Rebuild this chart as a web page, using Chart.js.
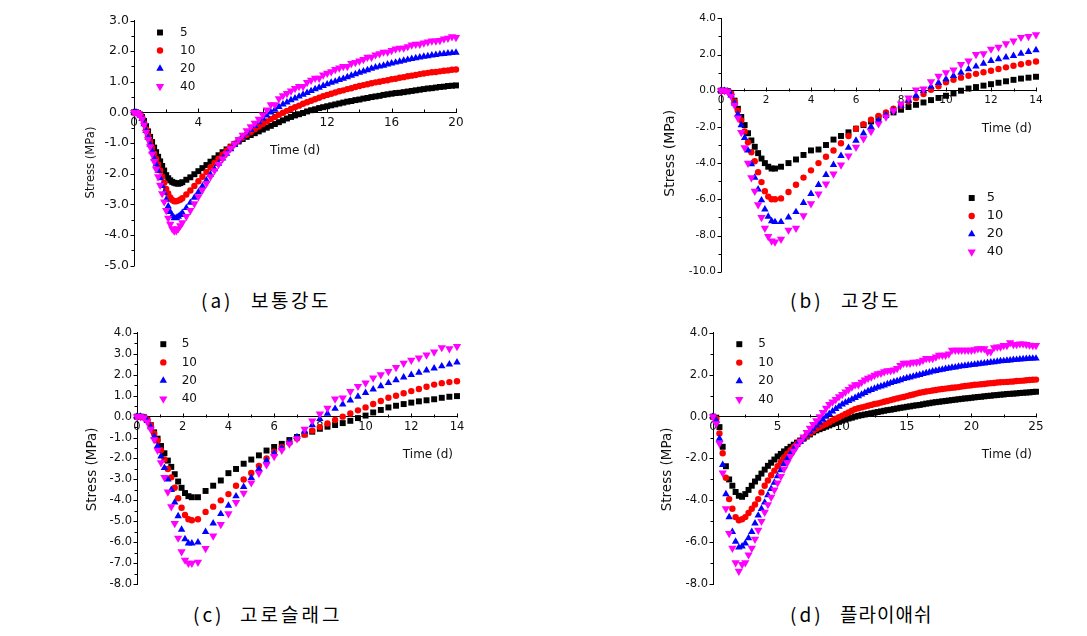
<!DOCTYPE html>
<html><head><meta charset="utf-8">
<script src="https://cdn.jsdelivr.net/npm/chart.js"></script>
<style>
html,body{margin:0;padding:0;background:#fff;}
body{width:1087px;height:636px;position:relative;overflow:hidden;}
canvas{position:absolute;}
.cap{position:absolute;font-family:"Noto Sans CJK KR";font-size:19px;color:#000;white-space:nowrap;line-height:20px;}
</style></head><body>
<canvas id="ca" width="394" height="270" style="left:74px;top:8px"></canvas>
<canvas id="cb" width="387" height="276" style="left:661px;top:7px"></canvas>
<canvas id="cc" width="392" height="275" style="left:77px;top:321px"></canvas>
<canvas id="cd" width="395" height="275" style="left:653px;top:321px"></canvas>

<span class="cap" style="left:201px;top:290px;letter-spacing:3px">(a)</span>
<span class="cap" style="left:251px;top:290px;letter-spacing:2.5px">보통강도</span>
<span class="cap" style="left:790px;top:290px;letter-spacing:3px">(b)</span>
<span class="cap" style="left:841px;top:290px;letter-spacing:2.5px">고강도</span>
<span class="cap" style="left:193px;top:604px;letter-spacing:3px">(c)</span>
<span class="cap" style="left:240px;top:604px;letter-spacing:3px">고로슬래그</span>
<span class="cap" style="left:790px;top:604px;letter-spacing:3px">(d)</span>
<span class="cap" style="left:840px;top:604px;letter-spacing:1px">플라이애쉬</span>

<script>
// ---------- data ----------
const seriesNames = ['5', '10', '20', '40'];

function range(a, b, s) {
  const n = Math.round((b - a) / s);
  return Array.from({length: n + 1}, (_, i) => +(a + i * s).toFixed(4));
}

// (a) 보통강도 : 0..3 d every 0.125 d, then every 0.25 d up to 20 d
const timeA = [...range(0, 3, 0.125), ...range(3.25, 20, 0.25)];
const a5 = [0, 0, -0.02, -0.07, -0.15, -0.28, -0.45, -0.62,
  -0.8, -0.97, -1.15, -1.3, -1.45, -1.6, -1.75, -1.9,
  -2.05, -2.15, -2.22, -2.27, -2.3, -2.32, -2.33, -2.31,
  -2.28, -2.2, -2.12, -2.02,
  -1.92, -1.82, -1.72, -1.61, -1.5, -1.4, -1.3, -1.21,
  -1.12, -1.03, -0.95, -0.87, -0.8, -0.74, -0.68, -0.62,
  -0.56, -0.5, -0.44, -0.38, -0.32, -0.26, -0.2, -0.15,
  -0.1, -0.06, -0.02, 0.03, 0.07, 0.1, 0.14, 0.17,
  0.2, 0.23, 0.26, 0.29, 0.32, 0.35, 0.37, 0.4,
  0.42, 0.45, 0.47, 0.5, 0.52, 0.54, 0.57, 0.59,
  0.61, 0.63, 0.64, 0.66, 0.68, 0.7, 0.72, 0.74,
  0.76, 0.78, 0.79, 0.81, 0.83, 0.84, 0.86, 0.87,
  0.88];
const a10 = [0, 0, -0.02, -0.08, -0.18, -0.35, -0.55, -0.75,
  -0.95, -1.15, -1.35, -1.52, -1.7, -1.9, -2.1, -2.3,
  -2.5, -2.65, -2.78, -2.86, -2.9, -2.9, -2.88, -2.85,
  -2.8, -2.68, -2.55, -2.4,
  -2.25, -2.1, -1.95, -1.8, -1.65, -1.51, -1.38, -1.25,
  -1.13, -1.02, -0.92, -0.82, -0.73, -0.64, -0.55, -0.46,
  -0.38, -0.3, -0.22, -0.15, -0.08, -0.01, 0.05, 0.11,
  0.17, 0.22, 0.28, 0.33, 0.38, 0.43, 0.48, 0.53,
  0.57, 0.61, 0.65, 0.69, 0.72, 0.76, 0.79, 0.83,
  0.86, 0.89, 0.92, 0.95, 0.98, 1.0, 1.03, 1.05,
  1.08, 1.1, 1.13, 1.15, 1.18, 1.2, 1.22, 1.25,
  1.27, 1.29, 1.31, 1.32, 1.34, 1.36, 1.37, 1.39,
  1.4];
const a20 = [0, 0, -0.03, -0.09, -0.2, -0.38, -0.6, -0.82,
  -1.05, -1.27, -1.5, -1.7, -1.9, -2.15, -2.4, -2.62,
  -2.85, -3.07, -3.25, -3.38, -3.45, -3.44, -3.4, -3.35,
  -3.28, -3.12, -2.95, -2.78,
  -2.6, -2.41, -2.22, -2.03, -1.85, -1.67, -1.5, -1.35,
  -1.2, -1.06, -0.92, -0.8, -0.68, -0.56, -0.44, -0.32,
  -0.2, -0.1, 0.0, 0.09, 0.18, 0.26, 0.33, 0.4,
  0.46, 0.52, 0.58, 0.64, 0.7, 0.76, 0.81, 0.87,
  0.92, 0.97, 1.01, 1.06, 1.1, 1.15, 1.2, 1.25,
  1.3, 1.34, 1.38, 1.43, 1.47, 1.5, 1.53, 1.57,
  1.6, 1.63, 1.66, 1.69, 1.72, 1.75, 1.77, 1.8,
  1.82, 1.84, 1.86, 1.88, 1.9, 1.91, 1.93, 1.94,
  1.95];
const a40 = [0, 0, -0.03, -0.1, -0.22, -0.42, -0.65, -0.88,
  -1.12, -1.36, -1.6, -1.85, -2.1, -2.38, -2.65, -2.92,
  -3.2, -3.45, -3.65, -3.8, -3.87, -3.86, -3.8, -3.7,
  -3.6, -3.4, -3.2, -2.98,
  -2.75, -2.53, -2.32, -2.1, -1.9, -1.7, -1.52, -1.35,
  -1.18, -1.03, -0.88, -0.74, -0.6, -0.47, -0.35, -0.22,
  -0.08, 0.08, 0.25, 0.25, 0.45, 0.55, 0.62, 0.7,
  0.78, 0.85, 0.85, 0.98, 1.05, 1.12, 1.12, 1.22,
  1.28, 1.33, 1.4, 1.45, 1.5, 1.5, 1.6, 1.63,
  1.68, 1.73, 1.8, 1.8, 1.88, 1.92, 1.97, 1.97,
  2.02, 2.07, 2.1, 2.1, 2.15, 2.2, 2.23, 2.23,
  2.27, 2.3, 2.33, 2.33, 2.35, 2.4, 2.42, 2.47,
  2.45];

// (b) 고강도 and (c) 고로슬래그 : 0..2.4 d every 0.15 d, then every 1/3 d up to 14 d
const timeBC = [...range(0, 2.4, 0.15), ...range(8 / 3, 14, 1 / 3)];
const b5 = [0, 0, -0.02, -0.2, -0.55, -1.0, -1.45, -1.9,
  -2.35, -2.75, -3.1, -3.45, -3.75, -4.0, -4.2, -4.3, -4.3,
  -4.2,
  -4.0, -3.8, -3.55,
  -3.3, -3.25, -3.0,
  -2.7, -2.5, -2.3,
  -2.1, -1.9, -1.7,
  -1.5, -1.35, -1.2,
  -1.05, -0.9, -0.78,
  -0.65, -0.52, -0.4,
  -0.28, -0.15, 0.0,
  0.12, 0.2, 0.28,
  0.36, 0.44, 0.52,
  0.6, 0.67, 0.72,
  0.77];
const b10 = [0, 0, -0.03, -0.2, -0.6, -1.1, -1.65, -2.25,
  -2.85, -3.4, -3.9, -4.5, -5.05, -5.55, -5.85, -6.0, -6.0,
  -5.95,
  -5.6, -5.2, -4.8,
  -4.4, -4.0, -3.65,
  -3.3, -2.9, -2.5,
  -2.1, -1.85, -1.6,
  -1.4, -1.2, -1.0,
  -0.83, -0.6, -0.4,
  -0.18, 0.05, 0.25,
  0.46, 0.6, 0.72,
  0.83, 0.93, 1.02,
  1.1, 1.2, 1.29,
  1.38, 1.46, 1.54,
  1.61];
const b20 = [0, 0, -0.03, -0.25, -0.7, -1.3, -1.9, -2.6,
  -3.3, -4.05, -4.8, -5.45, -6.05, -6.55, -6.95, -7.2, -7.25,
  -7.25,
  -7.0, -6.7, -6.2,
  -5.7, -5.2, -4.65,
  -4.1, -3.6, -3.15,
  -2.75, -2.35, -2.0,
  -1.65, -1.35, -1.1,
  -0.83, -0.55, -0.27,
  0.0, 0.22, 0.43,
  0.64, 0.82, 1.0,
  1.19, 1.34, 1.5,
  1.65, 1.75, 1.84,
  1.93, 2.05, 2.15,
  2.24];
const b40 = [0, 0, -0.05, -0.3, -0.8, -1.5, -2.3, -3.15,
  -4.0, -4.8, -5.55, -6.3, -7.0, -7.6, -8.05, -8.3, -8.35,
  -8.2,
  -7.7, -7.6, -6.9,
  -6.24, -5.7, -5.15,
  -4.6, -4.1, -3.6,
  -3.12, -2.65, -2.25,
  -1.83, -1.45, -1.1,
  -0.73, -0.4, 0.05,
  0.1, 0.5, 0.8,
  1.0, 1.15, 1.45,
  1.65, 2.0, 2.05,
  2.3, 2.4, 2.6,
  2.75, 2.95, 3.0,
  3.1];

const c5 = [0, 0, -0.03, -0.15, -0.4, -0.75, -1.05, -1.4,
  -1.75, -2.1, -2.4, -2.75, -3.1, -3.4, -3.65, -3.8, -3.85,
  -3.85,
  -3.55, -3.3, -3.05,
  -2.7, -2.5, -2.25,
  -2.05, -1.85, -1.62,
  -1.45, -1.3, -1.12,
  -0.97, -0.85, -0.72,
  -0.58, -0.48, -0.4,
  -0.31, -0.2, -0.07,
  0.05, 0.2, 0.32,
  0.44, 0.52, 0.6,
  0.67, 0.73, 0.78,
  0.83, 0.9, 0.95,
  0.98];
const c10 = [0, 0, -0.03, -0.15, -0.4, -0.8, -1.15, -1.6,
  -2.05, -2.5, -2.9, -3.4, -3.9, -4.35, -4.7, -4.9, -4.95,
  -4.9,
  -4.55, -4.3, -4.0,
  -3.7, -3.3, -3.0,
  -2.69, -2.35, -2.0,
  -1.67, -1.45, -1.25,
  -1.05, -0.85, -0.67,
  -0.5, -0.33, -0.16,
  0.0, 0.15, 0.3,
  0.44, 0.6, 0.75,
  0.9, 1.0, 1.12,
  1.22, 1.32, 1.43,
  1.53, 1.6, 1.65,
  1.69];
const c20 = [0, 0, -0.04, -0.2, -0.5, -0.95, -1.4, -1.9,
  -2.45, -3.0, -3.5, -4.1, -4.75, -5.4, -5.85, -6.05, -6.05,
  -6.0,
  -5.5, -5.1, -4.65,
  -4.25, -3.8, -3.35,
  -2.92, -2.5, -2.1,
  -1.75, -1.5, -1.22,
  -0.97, -0.7, -0.4,
  -0.11, 0.15, 0.38,
  0.59, 0.78, 0.96,
  1.14, 1.3, 1.46,
  1.61, 1.75, 1.88,
  2.0, 2.1, 2.21,
  2.31, 2.41, 2.5,
  2.59];
const c40 = [0, 0, -0.05, -0.25, -0.6, -1.1, -1.6, -2.2,
  -2.9, -3.6, -4.3, -5.1, -5.8, -6.45, -6.85, -7.0, -7.0,
  -6.95,
  -6.3, -5.7, -5.15,
  -4.64, -4.1, -3.65,
  -3.16, -2.7, -2.3,
  -1.9, -1.6, -1.3,
  -1.05, -0.6, -0.2,
  0.13, 0.4, 0.85,
  0.9, 1.2, 1.45,
  1.61, 1.85, 2.0,
  2.16, 2.35, 2.55,
  2.7, 2.8, 2.95,
  3.09, 3.3, 3.25,
  3.35];

// (d) 플라이애쉬 : every 0.25 d, 0..25 d
const timeD = range(0, 25, 0.25);
const d5 = [0, -0.05, -0.5, -1.44,
  -2.37, -3.0, -3.3, -3.6,
  -3.78, -3.83, -3.7, -3.5,
  -3.3, -3.1, -2.92, -2.72,
  -2.53, -2.35, -2.2, -2.05,
  -1.9, -1.78, -1.66, -1.55,
  -1.44, -1.34, -1.24, -1.14,
  -1.05, -0.95, -0.85, -0.75,
  -0.66, -0.6, -0.54, -0.48,
  -0.42, -0.36, -0.3, -0.25,
  -0.19, -0.14, -0.09, -0.05,
  0.0, 0.04, 0.07, 0.1,
  0.13, 0.16, 0.19, 0.22,
  0.25, 0.28, 0.31, 0.33,
  0.36, 0.39, 0.42, 0.44,
  0.47, 0.49, 0.52, 0.54,
  0.56, 0.59, 0.62, 0.64,
  0.67, 0.69, 0.71, 0.73,
  0.75, 0.77, 0.79, 0.81,
  0.83, 0.85, 0.87, 0.88,
  0.9, 0.92, 0.94, 0.95,
  0.97, 0.99, 1.0, 1.02,
  1.03, 1.05, 1.06, 1.08,
  1.09, 1.1, 1.11, 1.13,
  1.14, 1.15, 1.16, 1.18,
  1.19];
const d10 = [0, -0.1, -0.8, -1.75,
  -2.92, -3.94, -4.4, -4.8,
  -4.95, -4.9, -4.8, -4.6,
  -4.4, -4.2, -3.94, -3.62,
  -3.3, -3.05, -2.8, -2.58,
  -2.37, -2.17, -1.95, -1.77,
  -1.6, -1.45, -1.3, -1.17,
  -1.05, -0.92, -0.8, -0.69,
  -0.58, -0.5, -0.42, -0.35,
  -0.27, -0.18, -0.1, -0.03,
  0.05, 0.13, 0.2, 0.28,
  0.36, 0.4, 0.44, 0.48,
  0.52, 0.56, 0.6, 0.63,
  0.67, 0.71, 0.75, 0.79,
  0.83, 0.87, 0.91, 0.94,
  0.98, 1.02, 1.06, 1.1,
  1.14, 1.17, 1.2, 1.22,
  1.25, 1.27, 1.3, 1.32,
  1.34, 1.36, 1.38, 1.39,
  1.41, 1.44, 1.46, 1.48,
  1.5, 1.52, 1.53, 1.55,
  1.56, 1.58, 1.6, 1.61,
  1.63, 1.64, 1.65, 1.66,
  1.67, 1.68, 1.7, 1.71,
  1.72, 1.74, 1.75, 1.76,
  1.77];
const d20 = [0, -0.2, -1.05, -2.3,
  -3.7, -4.8, -5.5, -5.97,
  -6.25, -6.2, -6.05, -5.8,
  -5.5, -5.1, -4.72, -4.4,
  -4.1, -3.75, -3.45, -3.15,
  -2.84, -2.55, -2.25, -2.0,
  -1.75, -1.55, -1.35, -1.2,
  -1.05, -0.88, -0.72, -0.57,
  -0.42, -0.28, -0.14, 0.0,
  0.13, 0.25, 0.37, 0.48,
  0.59, 0.67, 0.75, 0.83,
  0.9, 0.98, 1.06, 1.14,
  1.22, 1.28, 1.34, 1.4,
  1.45, 1.5, 1.56, 1.61,
  1.66, 1.7, 1.75, 1.8,
  1.84, 1.88, 1.92, 1.96,
  2.0, 2.04, 2.08, 2.12,
  2.16, 2.19, 2.22, 2.25,
  2.28, 2.31, 2.34, 2.36,
  2.39, 2.41, 2.43, 2.45,
  2.47, 2.49, 2.51, 2.53,
  2.55, 2.57, 2.59, 2.61,
  2.63, 2.65, 2.66, 2.68,
  2.69, 2.71, 2.72, 2.74,
  2.75, 2.76, 2.77, 2.78,
  2.78];
const d40 = [0, -0.34, -1.28, -2.69,
  -4.4, -5.58, -6.28, -6.98,
  -7.38, -7.06, -6.98, -6.6,
  -6.28, -5.85, -5.42, -5.0,
  -4.56, -4.2, -3.85, -3.5,
  -3.16, -2.85, -2.5, -2.2,
  -1.9, -1.65, -1.4, -1.18,
  -0.97, -0.75, -0.55, -0.37,
  -0.19, 0.0, 0.2, 0.4,
  0.59, 0.7, 0.82, 0.95,
  1.06, 1.18, 1.3, 1.42,
  1.53, 1.53, 1.65, 1.75,
  1.84, 1.9, 1.98, 2.05,
  2.08, 2.15, 2.2, 2.2,
  2.23, 2.3, 2.45, 2.55,
  2.55, 2.55, 2.6, 2.6,
  2.63, 2.7, 2.78, 2.78,
  2.78, 2.85, 2.94, 2.94,
  2.94, 3.0, 3.17, 3.17,
  3.17, 3.17, 3.17, 3.17,
  3.17, 3.2, 3.25, 3.25,
  3.25, 3.1, 3.1, 3.3,
  3.33, 3.33, 3.4, 3.4,
  3.53, 3.45, 3.45, 3.48,
  3.48, 3.45, 3.42, 3.4,
  3.4];

// ---------- styling ----------
const markerStyles = [
  {ps: 'rect', r: 4.2, rot: 0, c: '#000000'},
  {ps: 'circle', r: 3.2, rot: 0, c: '#ff0000'},
  {ps: 'triangle', r: 4.3, rot: 0, c: '#0000ff'},
  {ps: 'triangle', r: 4.8, rot: 180, c: '#ff00ff'}
];
const TXT = '#111';
const FONT = '"DejaVu Sans", sans-serif';

function drawMarker(ctx, st, x, y) {
  ctx.fillStyle = st.c;
  ctx.beginPath();
  if (st.ps === 'rect') {
    const s = st.r * Math.SQRT1_2;
    ctx.rect(x - s, y - s, 2 * s, 2 * s);
  } else if (st.ps === 'circle') {
    ctx.arc(x, y, st.r, 0, Math.PI * 2);
  } else {
    let rad = st.rot * Math.PI / 180;
    for (let k = 0; k < 3; k++) {
      const px = x + Math.sin(rad) * st.r, py = y - Math.cos(rad) * st.r;
      if (k === 0) ctx.moveTo(px, py); else ctx.lineTo(px, py);
      rad += Math.PI * 2 / 3;
    }
    ctx.closePath();
  }
  ctx.fill();
}

const decor = {
  id: 'decor',
  beforeDatasetsDraw(chart, args, o) {
    const {ctx, chartArea: ca, scales: {x, y}} = chart;
    ctx.save();
    ctx.strokeStyle = '#000';
    ctx.lineWidth = 1;
    const y0 = Math.round(y.getPixelForValue(0)) + 0.5;
    const xl = Math.round(ca.left) + 0.5;
    ctx.beginPath();
    let k = 0;
    for (let v = x.min; v <= x.max + 1e-9; v += o.xMinor, k++) {
      const px = Math.round(x.getPixelForValue(v)) + 0.5;
      ctx.moveTo(px, y0);
      ctx.lineTo(px, y0 - (k % 2 === 0 ? 4 : 3));
    }
    k = 0;
    for (let v = y.min; v <= y.max + 1e-9; v += o.yMinor, k++) {
      const py = Math.round(y.getPixelForValue(v)) + 0.5;
      ctx.moveTo(xl, py);
      ctx.lineTo(xl - (k % 2 === 0 ? 4 : 3), py);
    }
    ctx.stroke();
    ctx.restore();
  },
  afterDatasetsDraw(chart, args, o) {
    const {ctx, chartArea: ca, scales: {y}} = chart;
    ctx.save();
    ctx.fillStyle = TXT;
    // y title
    ctx.save();
    ctx.translate(ca.left - o.yTitleDx, ca.top + o.yTitleDy);
    ctx.rotate(-Math.PI / 2);
    ctx.font = o.yTitleSize + 'px ' + FONT;
    ctx.textAlign = 'center';
    ctx.textBaseline = 'middle';
    ctx.fillText('Stress (MPa)', 0, 0);
    ctx.restore();
    // x title
    ctx.font = '12px ' + FONT;
    ctx.textBaseline = 'middle';
    const ty = y.getPixelForValue(0) + 38;
    if (o.xTitleAlign === 'center') {
      ctx.textAlign = 'center';
      ctx.fillText('Time (d)', (ca.left + ca.right) / 2, ty);
    } else {
      ctx.textAlign = 'right';
      ctx.fillText('Time (d)', ca.right - 4, ty);
    }
    // legend
    ctx.font = o.legSize + 'px ' + FONT;
    ctx.textAlign = 'left';
    for (let i = 0; i < seriesNames.length; i++) {
      const ly = ca.top + o.legTop + i * o.legGap;
      drawMarker(ctx, markerStyles[i], ca.left + o.legMarkX, ly);
      ctx.fillStyle = TXT;
      ctx.fillText(seriesNames[i], ca.left + o.legTextX, ly);
    }
    ctx.restore();
  }
};

function makeChart(id, times, series, cfg) {
  const datasets = series.map((vals, si) => {
    const st = markerStyles[si];
    return {
      label: seriesNames[si],
      data: vals.map((v, i) => ({x: times[i], y: v})),
      pointStyle: st.ps,
      pointRotation: st.rot,
      pointRadius: st.r,
      pointBackgroundColor: st.c,
      pointBorderColor: st.c,
      pointBorderWidth: 0,
      showLine: false,
      clip: false,
      order: 3 - si
    };
  });
  return new Chart(document.getElementById(id), {
    type: 'scatter',
    data: {datasets},
    options: {
      responsive: false,
      animation: false,
      events: [],
      layout: {padding: {left: 0, top: 10, right: 12, bottom: 10}},
      plugins: {
        legend: {display: false},
        tooltip: {enabled: false},
        decor: cfg.decor
      },
      scales: {
        x: {
          type: 'linear',
          min: 0, max: cfg.xMax,
          position: {y: 0},
          grid: {display: true, drawOnChartArea: false, drawTicks: false},
          border: {display: true, color: '#000', width: 1},
          ticks: {
            stepSize: cfg.xStep, autoSkip: false, maxRotation: 0,
            padding: 3, color: TXT,
            font: {family: FONT, size: cfg.xTickSize},
            callback: v => String(v)
          }
        },
        y: {
          min: cfg.yMin, max: cfg.yMax,
          grid: {display: true, drawOnChartArea: false, drawTicks: false},
          border: {display: true, color: '#000', width: 1},
          ticks: {
            stepSize: cfg.yStep, autoSkip: false, padding: 5, color: TXT,
            font: {family: FONT, size: cfg.yTickSize},
            callback: v => Number(v).toFixed(1)
          },
          afterFit: s => { s.width = 60; }
        }
      }
    },
    plugins: [decor]
  });
}

makeChart('ca', timeA, [a5, a10, a20, a40], {
  xMax: 20, xStep: 4, yMin: -5, yMax: 3, yStep: 1, xTickSize: 12, yTickSize: 12.5,
  decor: {xMinor: 2, yMinor: 0.5, yTitleDx: 43.5, yTitleDy: 142, yTitleSize: 11.6,
    xTitleAlign: 'center', legMarkX: 26, legTextX: 46, legTop: 12, legGap: 18, legSize: 12}
});
makeChart('cb', timeBC, [b5, b10, b20, b40], {
  xMax: 14, xStep: 2, yMin: -10, yMax: 4, yStep: 2, xTickSize: 10.5, yTickSize: 10.5,
  decor: {xMinor: 1, yMinor: 1, yTitleDx: 51, yTitleDy: 135, yTitleSize: 14,
    xTitleAlign: 'end', legMarkX: 250.7, legTextX: 265.7, legTop: 179.7, legGap: 18, legSize: 13}
});
makeChart('cc', timeBC, [c5, c10, c20, c40], {
  xMax: 14, xStep: 2, yMin: -8, yMax: 4, yStep: 1, xTickSize: 11.5, yTickSize: 11.5,
  decor: {xMinor: 1, yMinor: 0.5, yTitleDx: 45, yTitleDy: 136.5, yTitleSize: 13.5,
    xTitleAlign: 'end', legMarkX: 26.3, legTextX: 44.7, legTop: 11.3, legGap: 18.2, legSize: 12}
});
makeChart('cd', timeD, [d5, d10, d20, d40], {
  xMax: 25, xStep: 5, yMin: -8, yMax: 4, yStep: 2, xTickSize: 12, yTickSize: 11.5,
  decor: {xMinor: 2.5, yMinor: 1, yTitleDx: 46, yTitleDy: 136.5, yTitleSize: 13.5,
    xTitleAlign: 'end', legMarkX: 26.3, legTextX: 45.3, legTop: 11.3, legGap: 18.4, legSize: 12}
});
</script>
</body></html>
